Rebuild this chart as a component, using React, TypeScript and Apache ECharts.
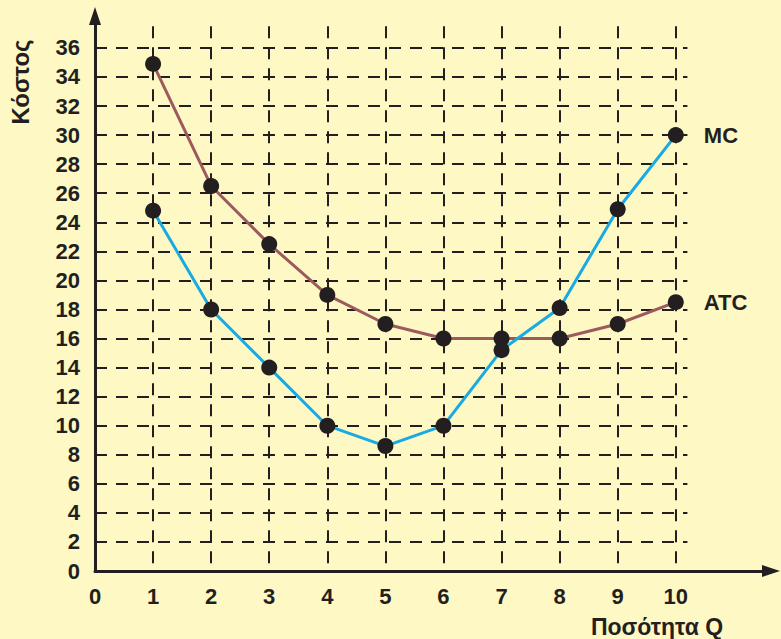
import React, { useEffect, useRef } from "react";
import * as echarts from "echarts";

// Data
const quantities = [1, 2, 3, 4, 5, 6, 7, 8, 9, 10];
const atcValues = [34.9, 26.5, 22.5, 19, 17, 16, 16, 16, 17, 18.5];
const mcValues = [24.8, 18, 14, 10, 8.6, 10, 15.2, 18.1, 24.9, 30];
const xTickLabels = [0, 1, 2, 3, 4, 5, 6, 7, 8, 9, 10];
const yTickLabels = [0, 2, 4, 6, 8, 10, 12, 14, 16, 18, 20, 22, 24, 26, 28, 30, 32, 34, 36];
const seriesNames = ["ATC", "MC"];
const axisTitles = { x: "Ποσότητα Q", y: "Κόστος" };

const INK = "#231f20";
const BG = "#fef8c4";
const FONT = "'Liberation Sans', Arial, sans-serif";

export default function App() {
  const ref = useRef<HTMLDivElement>(null);

  useEffect(() => {
    document.body.style.margin = "0";
    if (!ref.current) return;
    const chart = echarts.init(ref.current, null, { renderer: "svg" });

    const W = 781;
    const H = 639;
    const left = 95;
    const bottom = 68;
    const originY = H - bottom;
    const pxX = 58.08;
    const pxY = 14.53;
    // data grid extents (grid lines stop a little past 10 and 36)
    const gxMax = 10.2;
    const gyMax = 37.5;
    // axis grid extents (arrows)
    const axRight = 10;
    const axTop = 16;
    const axXMax = (W - axRight - left) / pxX;
    const axYMax = (originY - axTop) / pxY;

    const toPairs = (vals: number[]) => quantities.map((q, i) => [q, vals[i]]);

    const labelStyle = {
      color: INK,
      fontWeight: "bold" as const,
      fontSize: 22,
      fontFamily: FONT,
    };

    const endLabel = {
      show: true,
      formatter: "{a}",
      distance: 28,
      color: INK,
      fontWeight: "bold" as const,
      fontSize: 22,
      fontFamily: FONT,
    };

    chart.setOption({
      animation: false,
      backgroundColor: BG,
      grid: [
        { left, right: axRight, top: axTop, bottom, containLabel: false },
        {
          left,
          right: W - (left + gxMax * pxX),
          top: originY - gyMax * pxY,
          bottom,
          containLabel: false,
        },
      ],
      xAxis: [
        {
          gridIndex: 0,
          type: "value",
          min: 0,
          max: axXMax,
          axisLine: {
            show: true,
            symbol: ["none", "triangle"],
            symbolSize: [12, 18],
            lineStyle: { color: INK, width: 3 },
          },
          axisTick: { show: false },
          axisLabel: { show: false },
          splitLine: { show: false },
        },
        {
          gridIndex: 1,
          type: "value",
          min: 0,
          max: gxMax,
          interval: 1,
          axisLine: { show: false },
          axisTick: { show: false },
          axisLabel: {
            ...labelStyle,
            margin: 14,
            formatter: (v: number) => (xTickLabels.includes(v) ? String(v) : ""),
          },
          splitLine: {
            show: true,
            showMinLine: false,
            showMaxLine: false,
            lineStyle: { color: INK, width: 2, type: [12, 9] },
          },
        },
      ],
      yAxis: [
        {
          gridIndex: 0,
          type: "value",
          min: 0,
          max: axYMax,
          axisLine: {
            show: true,
            symbol: ["none", "triangle"],
            symbolSize: [12, 18],
            lineStyle: { color: INK, width: 3 },
          },
          axisTick: { show: false },
          axisLabel: { show: false },
          splitLine: { show: false },
        },
        {
          gridIndex: 1,
          type: "value",
          min: 0,
          max: gyMax,
          interval: 2,
          axisLine: { show: false },
          axisTick: { show: false },
          axisLabel: {
            ...labelStyle,
            margin: 15,
            formatter: (v: number) => (yTickLabels.includes(v) ? String(v) : ""),
          },
          splitLine: {
            show: true,
            showMinLine: false,
            showMaxLine: false,
            lineStyle: { color: INK, width: 2, type: [12, 9] },
          },
        },
      ],
      graphic: [
        {
          type: "text",
          x: 20,
          y: 82,
          rotation: Math.PI / 2,
          style: {
            text: axisTitles.y,
            fill: INK,
            font: `bold 24px ${FONT}`,
            textAlign: "center",
            textVerticalAlign: "middle",
          },
        },
        {
          type: "text",
          x: 657,
          y: 627,
          style: {
            text: axisTitles.x,
            fill: INK,
            font: `bold 23px ${FONT}`,
            textAlign: "center",
            textVerticalAlign: "middle",
          },
        },
      ],
      series: [
        {
          name: seriesNames[0],
          type: "line",
          xAxisIndex: 1,
          yAxisIndex: 1,
          data: toPairs(atcValues),
          symbol: "circle",
          symbolSize: 16,
          itemStyle: { color: INK },
          lineStyle: { color: "#9c5a5e", width: 3 },
          endLabel,
          z: 3,
        },
        {
          name: seriesNames[1],
          type: "line",
          xAxisIndex: 1,
          yAxisIndex: 1,
          data: toPairs(mcValues),
          symbol: "circle",
          symbolSize: 16,
          itemStyle: { color: INK },
          lineStyle: { color: "#18aae2", width: 3 },
          endLabel,
          z: 4,
        },
      ],
    });

    return () => chart.dispose();
  }, []);

  return <div ref={ref} style={{ width: 781, height: 639 }} />;
}
